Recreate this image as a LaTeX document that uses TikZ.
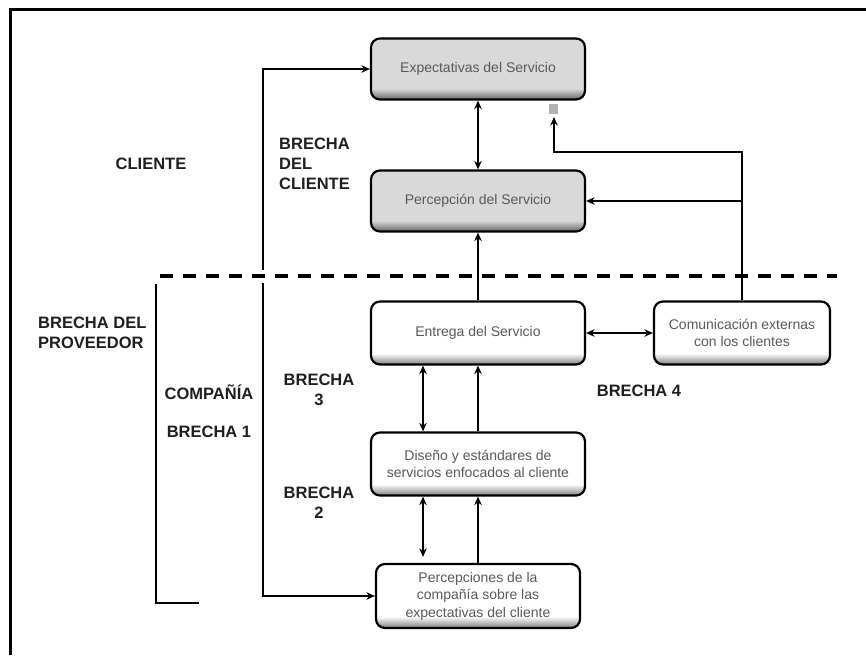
\documentclass[tikz,border=0pt]{standalone}
\usepackage{fontspec}
\setmainfont{Liberation Sans}
\usetikzlibrary{arrows.meta}
\pgfdeclareverticalshading{grayboxshade}{100bp}{color(0bp)=(black!60); color(25bp)=(black!60); color(34bp)=(black!15); color(100bp)=(black!15)}
\pgfdeclareverticalshading{whiteboxshade}{100bp}{color(0bp)=(black!50); color(25bp)=(black!50); color(34bp)=(white); color(100bp)=(white)}
\begin{document}
\begin{tikzpicture}[x=1pt,y=-1pt,
  >={Stealth[length=8.5pt,width=7.5pt]},
  boxbase/.style={draw, line width=2.2pt, rounded corners=9pt, inner sep=0pt, align=center,
    font=\fontsize{14}{17.5}\selectfont, text=black!65},
  graybox/.style={boxbase, shading=grayboxshade},
  whitebox/.style={boxbase, shading=whiteboxshade},
  conn/.style={line width=1.9pt},
  arr/.style={conn, ->},
  dbl/.style={conn, <->},
  lbl/.style={font=\fontsize{16.5}{20}\selectfont\bfseries, text=black!88, inner sep=0pt}
]
\useasboundingbox (0,0) rectangle (866,655);
\fill[white] (0,0) rectangle (866,655);
% frame
\draw[line width=3pt] (10,655) -- (10,10) -- (866,10);

% boxes
\node[graybox, minimum width=214pt, minimum height=61pt] (exp) at (478,69) {Expectativas del Servicio};
\node[graybox, minimum width=214pt, minimum height=61pt] (perc) at (478,201) {Percepción del Servicio};
\node[whitebox, minimum width=214pt, minimum height=63pt] (ent) at (478,333) {Entrega del Servicio};
\node[whitebox, minimum width=176pt, minimum height=63pt] (com) at (742,333) {Comunicación externas\\con los  clientes};
\node[whitebox, minimum width=214pt, minimum height=63pt] (dis) at (478,464) {Diseño y estándares de\\servicios enfocados al cliente};
\node[whitebox, minimum width=204pt, minimum height=64pt] (pcomp) at (478,596) {Percepciones de la\\compañía sobre las\\expectativas del cliente};

% dashed separator and bracket
\coordinate (dl) at (160,276);
\coordinate (dr) at (837,276);
\draw[line width=3.5pt, dash pattern=on 13pt off 10pt] (dl) -- (dr);
\coordinate (bt) at (156,284);
\coordinate (bb) at (199,603);
\draw[line width=2.2pt] (bb) -| (bt);

% connectors
\coordinate (vl) at (263,276);
\draw[arr, shorten <=6pt] (vl) |- (exp.west);
\draw[arr, shorten <=7pt] (vl) |- (pcomp.west);

\draw[dbl] (exp.south) -- (perc.north);
\draw[arr] (ent.north) -- (perc.south);
\coordinate (fb) at (554,117);
\fill[black!30] (549,104) rectangle (558,114);
\draw[arr] (com.north) -- (com.north |- 0,152) -| (fb);
\draw[arr] (com.north |- 0,201) -- (perc.east);
\draw[dbl] (ent.east) -- (com.west);
\draw[dbl] ([xshift=-55pt]ent.south) -- ([xshift=-55pt]dis.north);
\draw[arr] (dis.north) -- (ent.south);
\draw[dbl] ([xshift=-55pt]dis.south) -- ([xshift=-55pt,yshift=6pt]pcomp.north);
\draw[arr] (pcomp.north) -- (dis.south);

% labels
\node[lbl] (lcli) at (151,164) {CLIENTE};
\node[lbl, anchor=west, align=left] (lbc) at (279,164) {BRECHA\\DEL\\CLIENTE};
\node[lbl, anchor=west, align=left] (lbp) at (38,333) {BRECHA DEL\\PROVEEDOR};
\node[lbl] (lcomp) at (209,392) {COMPAÑÍA};
\node[lbl] (lb1) at (209,432) {BRECHA 1};
\node[lbl, align=center] (lb3) at (319,390) {BRECHA\\3};
\node[lbl] (lb4) at (639,391) {BRECHA 4};
\node[lbl, align=center] (lb2) at (319,503) {BRECHA\\2};
\end{tikzpicture}
\end{document}
